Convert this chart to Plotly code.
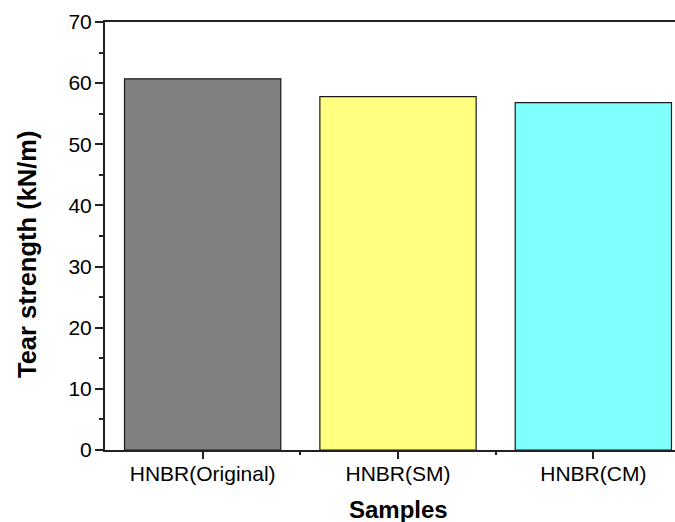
import plotly.graph_objects as go

# Tear strength of the three HNBR samples
samples = ["HNBR(Original)", "HNBR(SM)", "HNBR(CM)"]
tear_strength = [60.7, 57.8, 56.8]
bar_colors = ["#808080", "#FFFF80", "#80FFFF"]
y_ticks = [0, 10, 20, 30, 40, 50, 60, 70]

positions = list(range(len(samples)))

fig = go.Figure()
fig.add_trace(go.Bar(
    x=positions,
    y=tear_strength,
    width=0.8,
    marker=dict(color=bar_colors, line=dict(color="#1a1a1a", width=1.2)),
    showlegend=False,
))

W, H = 675, 522
ml, mr, mt, mb = 105, 0, 22, 72

axis_font = dict(family="Liberation Sans, Arial, sans-serif", size=21, color="#000")
title_family = "Liberation Sans, Arial, sans-serif"

fig.update_layout(
    width=W, height=H,
    margin=dict(l=ml, r=mr, t=mt, b=mb),
    paper_bgcolor="white",
    plot_bgcolor="white",
    bargap=0.2,
    xaxis=dict(
        range=[-0.5, 2.418],
        tickmode="array",
        tickvals=positions,
        ticktext=samples,
        ticks="outside", ticklen=7, tickwidth=1.5, tickcolor="#222",
        minor=dict(tickmode="array", tickvals=[0.5, 1.5], ticks="outside",
                   ticklen=3, tickwidth=1.5, tickcolor="#222"),
        showline=True, linewidth=2, linecolor="#222", mirror=True,
        showgrid=False, zeroline=False,
        tickfont=axis_font,
        ticklabelstandoff=-3,
    ),
    yaxis=dict(
        range=[0, 70],
        tickmode="array",
        tickvals=y_ticks,
        ticks="outside", ticklen=8, tickwidth=1.5, tickcolor="#222",
        minor=dict(tick0=5, dtick=10, ticks="outside", ticklen=4,
                   tickwidth=1.5, tickcolor="#222"),
        showline=True, linewidth=2, linecolor="#222",
        showgrid=False, zeroline=False,
        tickfont=axis_font,
        ticklabelstandoff=-1,
    ),
    annotations=[
        dict(text="<b>Samples</b>", xref="paper", yref="paper",
             x=(398 - ml) / (W - ml - mr), y=-(510 - (H - mb)) / (H - mt - mb),
             showarrow=False, xanchor="center", yanchor="middle",
             font=dict(family=title_family, size=24, color="#000")),
        dict(text="<b>Tear strength (kN/m)</b>", xref="paper", yref="paper",
             x=-(ml - 27) / (W - ml - mr), y=((H - mb) - 255) / (H - mt - mb),
             showarrow=False, textangle=-90, xanchor="center", yanchor="middle",
             font=dict(family=title_family, size=25.5, color="#000")),
    ],
)

fig.write_html("out.html")
